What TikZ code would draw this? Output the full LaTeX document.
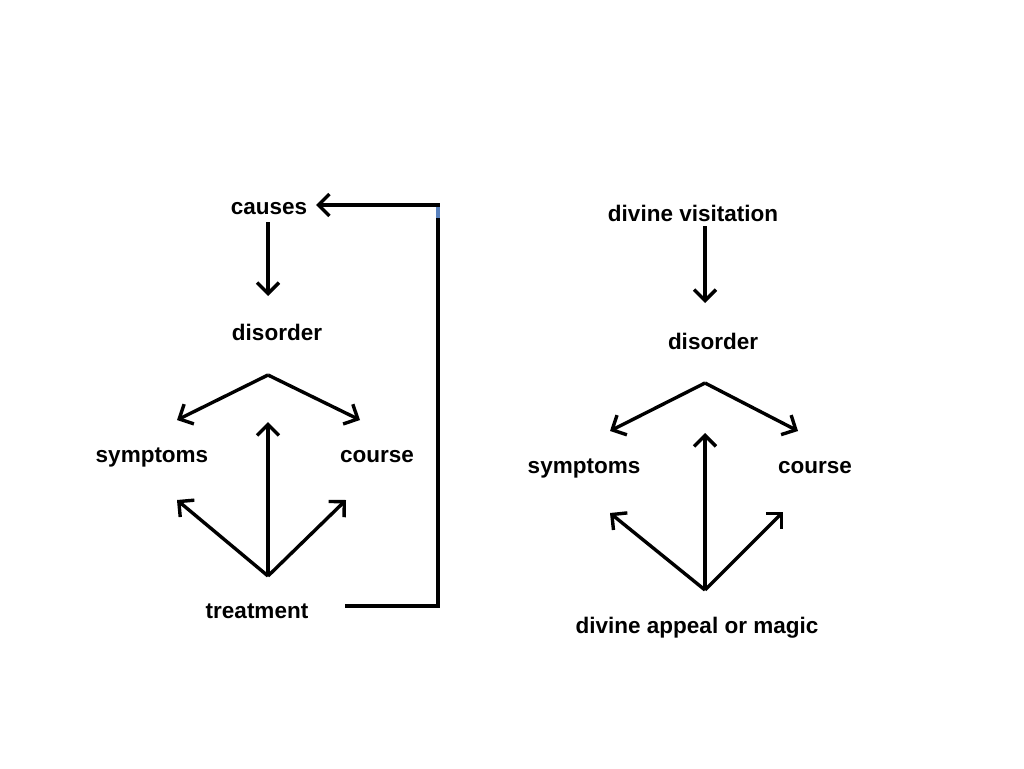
\documentclass[tikz,border=0pt]{standalone}
\usepackage{fontspec}
\setmainfont{Liberation Sans}
\usetikzlibrary{arrows.meta}
\definecolor{tickblue}{RGB}{90,130,190}
\begin{document}
\begin{tikzpicture}[x=1pt,y=-1pt,
  lbl/.style={font=\fontsize{22.5}{26}\selectfont\bfseries, inner sep=0pt},
  arr/.style={line width=3.4pt, -{Straight Barb[length=11pt,width=22pt,line width=3.4pt]}},
  ln/.style={line width=3.4pt}]
\useasboundingbox (0,0) rectangle (1024,768);
% left diagram
\node[lbl] (causes) at (269,209) {causes};
\node[lbl] (dis1) at (277,332) {disorder};
\node[lbl] (sym1) at (152,457) {symptoms};
\node[lbl] (cou1) at (377,457) {course};
\node[lbl] (tre1) at (257,611) {treatment};
\coordinate (c1top) at (268,222);
\coordinate (c1bot) at (268,296);
\coordinate (apex1) at (268,375);
\coordinate (sym1a) at (177,420);
\coordinate (cou1a) at (360,420);
\coordinate (base1) at (268,576);
\coordinate (mid1) at (268,422);
\coordinate (sym1b) at (177,500);
\coordinate (cou1b) at (346,500);
\coordinate (fbA) at (345,606);
\coordinate (fbB) at (438,606);
\coordinate (fbC) at (438,205);
\coordinate (fbD) at (316,205);
\coordinate (tickA) at (438,207);
\coordinate (tickB) at (438,218);
\draw[arr, line join=miter] (fbA) -- (fbB) -- (fbC) -- (fbD);
\draw[line width=3.4pt, tickblue] (tickA) -- (tickB);
\draw[arr] (c1top) -- (c1bot);
\draw[arr] (apex1) -- (sym1a);
\draw[arr] (apex1) -- (cou1a);
\draw[arr] (base1) -- (mid1);
\draw[arr] (base1) -- (sym1b);
\draw[arr] (base1) -- (cou1b);
% right diagram
\node[lbl] (dv) at (693,213) {divine visitation};
\node[lbl] (dis2) at (713,341) {disorder};
\node[lbl] (sym2) at (584,468) {symptoms};
\node[lbl] (cou2) at (815,468) {course};
\node[lbl] (app) at (697,628) {divine appeal or magic};
\coordinate (c2top) at (705,226);
\coordinate (c2bot) at (705,303);
\coordinate (apex2) at (705,383);
\coordinate (sym2a) at (610,431);
\coordinate (cou2a) at (798,431);
\coordinate (base2) at (705,590);
\coordinate (mid2) at (705,433);
\coordinate (sym2b) at (610,513);
\coordinate (cou2b) at (783,512);
\draw[arr] (c2top) -- (c2bot);
\draw[arr] (apex2) -- (sym2a);
\draw[arr] (apex2) -- (cou2a);
\draw[arr] (base2) -- (mid2);
\draw[arr] (base2) -- (sym2b);
\draw[arr] (base2) -- (cou2b);
\end{tikzpicture}
\end{document}
